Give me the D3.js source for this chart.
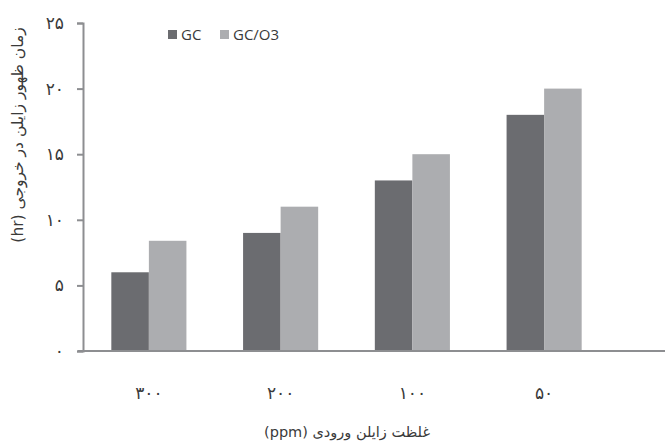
<!DOCTYPE html>
<html>
<head>
<meta charset="utf-8">
<script src="https://cdn.jsdelivr.net/npm/d3@7"></script>
<style>
  body { margin: 0; background: #fff; }
  svg { display: block; }
</style>
</head>
<body>
<svg id="chart" width="665" height="441"></svg>
<script>
// data
const categories = ["۳۰۰", "۲۰۰", "۱۰۰", "۵۰"]; // ppm
const seriesNames = ["GC", "GC/O3"];
const gcValues = [6, 9, 13, 18];
const gcO3Values = [8.4, 11, 15, 20];
const yTicks = [0, 5, 10, 15, 20, 25];

const colors = { "GC": "#6b6c70", "GC/O3": "#acadb0" };
const axisColor = "#8d8e91";
const textColor = "#3a3a3a";

const svg = d3.select("#chart");
const margin = { top: 23, left: 83, bottom: 351 };

const toFa = s => String(s).replace(/\d/g, d => "۰۱۲۳۴۵۶۷۸۹"[d]);

const x = d3.scaleBand()
  .domain(categories)
  .range([margin.left, 610])
  .paddingInner(0.43)
  .paddingOuter(0.215);

const xInner = d3.scaleBand()
  .domain(seriesNames)
  .range([0, x.bandwidth()]);

const y = d3.scaleLinear()
  .domain([0, 25])
  .range([margin.bottom, margin.top]);

const rows = categories.map((c, i) => ({
  cat: c,
  values: [
    { key: "GC", value: gcValues[i] },
    { key: "GC/O3", value: gcO3Values[i] }
  ]
}));

// bars
svg.append("g")
  .selectAll("g")
  .data(rows)
  .join("g")
  .attr("transform", d => `translate(${x(d.cat)},0)`)
  .selectAll("rect")
  .data(d => d.values)
  .join("rect")
  .attr("x", d => xInner(d.key))
  .attr("y", d => y(d.value))
  .attr("width", xInner.bandwidth())
  .attr("height", d => y(0) - y(d.value))
  .attr("fill", d => colors[d.key]);

// y axis
const yAxis = svg.append("g")
  .attr("transform", `translate(${margin.left},0)`)
  .call(d3.axisLeft(y).tickValues(yTicks).tickSize(6).tickPadding(13).tickFormat(toFa));
yAxis.select(".domain").attr("stroke", axisColor).attr("stroke-width", 2);
yAxis.selectAll(".tick line").attr("stroke", axisColor).attr("stroke-width", 2);
yAxis.selectAll(".tick text")
  .attr("fill", textColor)
  .style("font-family", "DejaVu Sans")
  .style("font-size", "17px");

// x axis line (runs to the edge)
svg.append("line")
  .attr("x1", margin.left - 5)
  .attr("x2", 665)
  .attr("y1", y(0))
  .attr("y2", y(0))
  .attr("stroke", axisColor)
  .attr("stroke-width", 2);

// category labels
svg.append("g")
  .selectAll("text")
  .data(categories)
  .join("text")
  .attr("x", d => x(d) + x.bandwidth() / 2)
  .attr("y", 399)
  .attr("text-anchor", "middle")
  .attr("fill", textColor)
  .style("font-family", "DejaVu Sans")
  .style("font-size", "17px")
  .text(d => d);

// axis titles
svg.append("text")
  .attr("x", 347)
  .attr("y", 437)
  .attr("text-anchor", "middle")
  .attr("direction", "rtl")
  .attr("fill", textColor)
  .style("font-family", "DejaVu Sans")
  .style("font-size", "14.5px")
  .text("غلظت زایلن ورودی (ppm)");

svg.append("text")
  .attr("transform", "translate(23,135) rotate(-90)")
  .attr("text-anchor", "middle")
  .attr("direction", "rtl")
  .attr("fill", textColor)
  .style("font-family", "DejaVu Sans")
  .style("font-size", "15.5px")
  .text("زمان ظهور زایلن در خروجی (hr)");

// legend
const legend = svg.append("g");
const legendX = [168, 220];
seriesNames.forEach((name, i) => {
  legend.append("rect")
    .attr("x", legendX[i])
    .attr("y", 30)
    .attr("width", 9)
    .attr("height", 9)
    .attr("fill", colors[name]);
  legend.append("text")
    .attr("x", legendX[i] + 13)
    .attr("y", 40)
    .attr("fill", textColor)
    .style("font-family", "Open Sans")
    .style("font-size", "15px")
    .text(name);
});
</script>
</body>
</html>
